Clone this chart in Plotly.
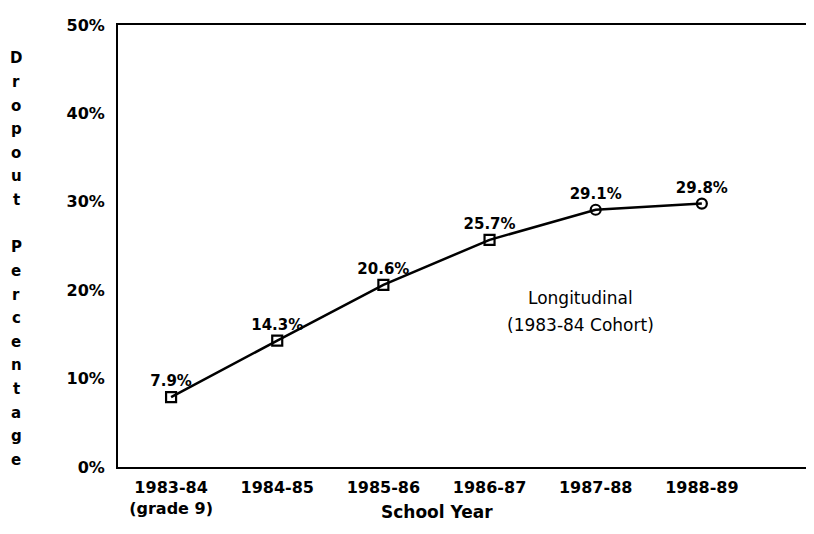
import plotly.graph_objects as go

years = ['1983-84', '1984-85', '1985-86', '1986-87', '1987-88', '1988-89']
year_labels = ['1983-84<br>(grade 9)', '1984-85', '1985-86', '1986-87', '1987-88', '1988-89']
dropout = [7.9, 14.3, 20.6, 25.7, 29.1, 29.8]
point_labels = ['7.9%', '14.3%', '20.6%', '25.7%', '29.1%', '29.8%']
symbols = ['square-open'] * 4 + ['circle-open'] * 2

bold = dict(family='DejaVu Sans', size=16, color='black', weight='bold')

fig = go.Figure()
fig.add_trace(go.Scatter(
    x=years, y=dropout,
    mode='lines+markers+text',
    line=dict(color='black', width=2.5),
    marker=dict(symbol=symbols, size=10, color='black', line=dict(color='black', width=2.2)),
    text=point_labels,
    textposition='top center',
    textfont=dict(family='DejaVu Sans', size=15, color='black', weight='bold'),
    showlegend=False,
    cliponaxis=False,
))

# page has an 8px body margin; plot area on the page is x 118..808, y 16..467
def px_x(px):
    return (px - 118) / 690

def px_y(py):
    return (467 - py) / 451

annotations = []
# stacked vertical axis title
letters = list('Dropout') + [''] + list('Percentage')
for i, ch in enumerate(letters):
    if not ch:
        continue
    annotations.append(dict(
        text=ch, x=px_x(16), y=px_y(50 + 24.1 * i),
        xref='paper', yref='paper', showarrow=False,
        xanchor='center', yanchor='middle',
        font=dict(family='DejaVu Sans', size=15, color='black', weight='bold'),
    ))

for txt, py in [('Longitudinal', 295), ('(1983-84 Cohort)', 322)]:
    annotations.append(dict(
        text=txt, x=px_x(580), y=px_y(py),
        xref='paper', yref='paper', showarrow=False,
        xanchor='center', yanchor='middle',
        font=dict(family='DejaVu Sans', size=17, color='black'),
    ))
annotations.append(dict(
    text='School Year', x=px_x(437), y=px_y(513),
    xref='paper', yref='paper', showarrow=False,
    xanchor='center', yanchor='middle',
    font=dict(family='DejaVu Sans', size=17, color='black', weight='bold'),
))

fig.update_layout(
    width=814, height=534,
    margin=dict(l=110, r=14, t=8, b=75),
    plot_bgcolor='white',
    paper_bgcolor='white',
    annotations=annotations,
    xaxis=dict(
        type='category',
        range=[-0.5, 6.0],
        tickmode='array',
        tickvals=years,
        ticktext=year_labels,
        tickfont=bold,
        showgrid=False,
        showline=True, linecolor='black', linewidth=2, mirror=True,
        ticks='',
        ticklabelstandoff=5,
    ),
    yaxis=dict(
        range=[0, 50],
        tickmode='array',
        tickvals=[0, 10, 20, 30, 40, 50],
        ticktext=['0%', '10%', '20%', '30%', '40%', '50%'],
        tickfont=bold,
        showgrid=False, zeroline=False,
        showline=True, linecolor='black', linewidth=2, mirror=True,
        ticks='',
        ticklabelstandoff=8,
        ticklabeloverflow='allow',
    ),
)

fig.write_html('out.html')
